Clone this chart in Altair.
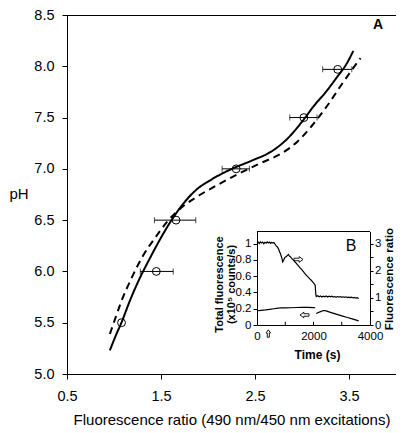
import altair as alt
import pandas as pd

# ---------------- Panel A: pH calibration ----------------
cal_ratio = [1.08, 1.45, 1.66, 2.30, 3.02, 3.38]
cal_ph = [5.5, 6.0, 6.5, 7.0, 7.5, 7.97]
cal_lo = [1.08, 1.28, 1.43, 2.15, 2.87, 3.22]
cal_hi = [1.08, 1.63, 1.87, 2.44, 3.16, 3.53]

solid_ratio = [0.956, 1.026, 1.079, 1.167, 1.272, 1.377, 1.482, 1.605, 1.728, 1.868,
               2.044, 2.254, 2.465, 2.675, 2.851, 3.009, 3.132, 3.254, 3.377, 3.465, 3.546]
solid_ph = [5.23, 5.39, 5.50, 5.71, 5.93, 6.12, 6.30, 6.49, 6.65, 6.79,
            6.90, 7.00, 7.08, 7.17, 7.30, 7.47, 7.62, 7.75, 7.90, 8.01, 8.15]

dashed_ratio = [0.956, 1.009, 1.079, 1.184, 1.307, 1.447, 1.570, 1.728, 1.904, 2.114,
                2.342, 2.570, 2.781, 2.956, 3.114, 3.272, 3.412, 3.535, 3.623]
dashed_ph = [5.39, 5.53, 5.71, 5.93, 6.15, 6.34, 6.49, 6.63, 6.74, 6.85,
             6.96, 7.06, 7.15, 7.27, 7.43, 7.62, 7.81, 7.97, 8.08]

x_ticks_main = [0.5, 1.5, 2.5, 3.5]
y_ticks_main = [5.0, 5.5, 6.0, 6.5, 7.0, 7.5, 8.0, 8.5]

# ---------------- Panel B: inset time course ----------------
ratio_t = [0, 40, 80, 120, 160, 200, 240, 280, 320, 360, 400, 440, 480, 520, 560, 600,
           640, 680, 720, 760, 800, 840, 880, 910, 940, 970, 1000, 1040, 1080, 1110, 1140,
           1180, 1220, 1270, 1320, 1370, 1420, 1470, 1520, 1570, 1620, 1670, 1720, 1770,
           1820, 1870, 1920, 1970, 2020, 2060, 2080, 2100, 2150, 2200, 2250, 2300, 2350,
           2400, 2450, 2500, 2550, 2600, 2650, 2700, 2750, 2800, 2850, 2900, 2950, 3000,
           3050, 3100, 3150, 3200, 3250, 3300, 3350, 3400, 3450, 3500, 3550, 3600]
ratio_v = [3.02, 3.06, 3.01, 3.07, 3.03, 3.06, 3.00, 3.05, 3.02, 3.07, 3.03, 3.06, 3.01, 3.05, 3.02, 3.04,
           2.98, 2.92, 2.88, 2.81, 2.70, 2.60, 2.47, 2.33, 2.38, 2.46, 2.50, 2.53, 2.57, 2.60, 2.55,
           2.52, 2.47, 2.41, 2.36, 2.30, 2.24, 2.18, 2.11, 2.06, 2.00, 1.93, 1.87, 1.81,
           1.76, 1.70, 1.65, 1.59, 1.53, 1.47, 1.15, 1.05, 1.08, 1.04, 1.07, 1.03, 1.06,
           1.04, 1.07, 1.03, 1.06, 1.04, 1.06, 1.03, 1.05, 1.02, 1.05, 1.03, 1.05, 1.02,
           1.04, 1.02, 1.04, 1.01, 1.03, 1.01, 1.03, 1.00, 1.02, 0.99, 1.01, 0.98]

total_t = [0, 150, 300, 450, 600, 750, 850, 1000, 1200, 1400, 1600, 1800, 2000, 2060,
           2100, 2150, 2250, 2350, 2420, 2600, 2800, 3000, 3200, 3400, 3600]
total_v = [0.175, 0.180, 0.185, 0.192, 0.200, 0.207, 0.212, 0.210, 0.212, 0.215, 0.217, 0.216, 0.214, 0.212,
           0.140, 0.150, 0.165, 0.178, 0.176, 0.155, 0.133, 0.112, 0.092, 0.072, 0.050]
total_seg = [0] * 14 + [1] * 11

inset_xticks = [1000, 2000, 3000]
arrow_right = (1469, 0.806)
arrow_left = (1681, 0.123)
arrow_up = (400, -0.105)

FONT = "Liberation Sans"

# hollow arrow outlines (unit shapes)
PATH_RIGHT = "M -1 -0.28 L 0.15 -0.28 L 0.15 -0.62 L 1 0 L 0.15 0.62 L 0.15 0.28 L -1 0.28 Z"
PATH_LEFT = "M 1 -0.28 L -0.15 -0.28 L -0.15 -0.62 L -1 0 L -0.15 0.62 L -0.15 0.28 L 1 0.28 Z"
PATH_UP = "M -0.28 1 L -0.28 -0.15 L -0.62 -0.15 L 0 -1 L 0.62 -0.15 L 0.28 -0.15 L 0.28 1 Z"

# ---------------- data frames ----------------
cal_df = pd.DataFrame({"ratio": cal_ratio, "ph": cal_ph, "lo": cal_lo, "hi": cal_hi})
curve_df = pd.concat([
    pd.DataFrame({"ratio": solid_ratio, "ph": solid_ph, "style": "solid",
                  "i": range(len(solid_ratio))}),
    pd.DataFrame({"ratio": dashed_ratio, "ph": dashed_ph, "style": "dashed",
                  "i": range(len(dashed_ratio))}),
])
a_df = pd.DataFrame({"x": [3.81], "y": [8.40], "t": ["A"]})

ratio_df = pd.DataFrame({"t": ratio_t, "v": ratio_v})
total_df = pd.DataFrame({"t": total_t, "v": total_v, "seg": total_seg})
tick_df = pd.DataFrame({"t": inset_xticks, "v0": [0.0] * 3, "v1": [0.04] * 3})
top_df = pd.DataFrame({"t0": [0], "t1": [4000], "v": [1.15]})
b_df = pd.DataFrame({"t": [3327], "v": [0.97], "s": ["B"]})

W, H = 329, 359
IN_BOTTOM, IN_TOP = 310, 216.5

# ---------------- scales ----------------
sx = alt.Scale(domain=[0.5, 4.0], range=[0, W], nice=False, zero=False)
sy = alt.Scale(domain=[5.0, 8.5], range=[H, 0], nice=False, zero=False)
ix = alt.Scale(domain=[0, 4000], range=[190, 303], nice=False, zero=False)
iyl = alt.Scale(domain=[0, 1.15], range=[IN_BOTTOM, IN_TOP], nice=False, zero=False)
iyr = alt.Scale(domain=[0, 3.45], range=[IN_BOTTOM, IN_TOP], nice=False, zero=False)

# ---------------- axes ----------------
ax_x = alt.Axis(orient="bottom", title="Fluorescence ratio (490 nm/450 nm excitations)",
                values=x_ticks_main, format=".1f", tickSize=5, labelPadding=10,
                labelFontSize=14.5, titleFontSize=15, titleFontWeight="normal",
                titleY=38, labelFlush=False, grid=False)
ax_y = alt.Axis(orient="left", title="pH", values=y_ticks_main, format=".1f",
                tickSize=5, labelPadding=8, labelFontSize=14.5, titleFontSize=15,
                titleFontWeight="normal", titleAngle=0, titleAlign="left",
                titleBaseline="middle", titleX=-58, titleY=178, grid=False)
ax_ix = alt.Axis(orient="bottom", offset=-(H - IN_BOTTOM), values=[0, 2000, 4000], format="d",
                 ticks=False, labelPadding=5, labelFontSize=11.5, labelFlush=False,
                 title="Time (s)", titleFontSize=12, titleFontWeight="bold",
                 titleX=250, titleY=24, grid=False)
ax_iyl = alt.Axis(orient="left", offset=-190, values=[0, 0.2, 0.4, 0.6, 0.8, 1.0],
                  format="~g", tickSize=4, labelPadding=2, labelFontSize=11.5,
                  title=["Total fluorescence", "(x10\u2075 counts/s)"],
                  titleFontSize=11, titleFontWeight="bold", titleAngle=270,
                  titleAlign="center", titleBaseline="middle", titleLineHeight=12,
                  titleX=-38, titleY=269, grid=False)
ax_iyr = alt.Axis(orient="right", offset=-(W - 303), values=[0, 0.5, 1, 1.5, 2, 2.5, 3],
                  format="~g",
                  labelExpr="datum.value % 1 == 0 ? datum.label : ''",
                  tickSize=3, labelPadding=1.5, labelFontSize=11.5,
                  title="Fluorescence ratio", titleFontSize=11.5, titleFontWeight="bold",
                  titleAngle=270, titleAlign="center", titleBaseline="middle",
                  titleX=19.5, titleY=263.5, grid=False)

# ---------------- main panel layers ----------------
curves = alt.Chart(curve_df).mark_line(color="black", strokeWidth=2, interpolate="monotone").encode(
    x=alt.X("ratio:Q", scale=sx, axis=ax_x),
    y=alt.Y("ph:Q", scale=sy, axis=ax_y),
    strokeDash=alt.StrokeDash("style:N", scale=alt.Scale(domain=["solid", "dashed"],
                                                         range=[[1, 0], [7, 5]]), legend=None),
    detail="style:N",
    order="i:Q",
)

errbars = alt.Chart(cal_df).transform_filter("datum.hi > datum.lo").mark_rule(
    color="black", strokeWidth=1).encode(
    x=alt.X("lo:Q", scale=sx, axis=None), x2="hi:Q",
    y=alt.Y("ph:Q", scale=sy, axis=None),
)

caps = alt.Chart(cal_df).transform_filter("datum.hi > datum.lo").transform_fold(
    ["lo", "hi"], as_=["end", "val"]).mark_tick(
    orient="vertical", size=6, thickness=1, color="black").encode(
    x=alt.X("val:Q", scale=sx, axis=None),
    y=alt.Y("ph:Q", scale=sy, axis=None),
)

points = alt.Chart(cal_df).mark_point(shape="circle", filled=False, size=62, color="black",
                                      strokeWidth=1, opacity=1).encode(
    x=alt.X("ratio:Q", scale=sx, axis=None),
    y=alt.Y("ph:Q", scale=sy, axis=None),
)

label_a = alt.Chart(a_df).mark_text(font=FONT, fontSize=14, fontWeight="bold", color="black").encode(
    x=alt.X("x:Q", scale=sx, axis=None),
    y=alt.Y("y:Q", scale=sy, axis=None),
    text="t:N",
)

# ---------------- inset layers ----------------
lower = alt.Chart(total_df).mark_line(color="black", strokeWidth=1.2).encode(
    x=alt.X("t:Q", scale=ix, axis=ax_ix),
    y=alt.Y("v:Q", scale=iyl, axis=ax_iyl),
    detail="seg:N",
)

upper = alt.Chart(ratio_df).mark_line(color="black", strokeWidth=1.2).encode(
    x=alt.X("t:Q", scale=ix, axis=None),
    y=alt.Y("v:Q", scale=iyr, axis=ax_iyr),
)

in_ticks = alt.Chart(tick_df).mark_rule(color="black", strokeWidth=1).encode(
    x=alt.X("t:Q", scale=ix, axis=None),
    y=alt.Y("v0:Q", scale=iyl, axis=None), y2="v1:Q",
)

top_line = alt.Chart(top_df).mark_rule(color="black", strokeWidth=1).encode(
    x=alt.X("t0:Q", scale=ix, axis=None), x2="t1:Q",
    y=alt.Y("v:Q", scale=iyl, axis=None),
)


def arrow(pos, path, size):
    df = pd.DataFrame({"t": [pos[0]], "v": [pos[1]]})
    return alt.Chart(df).mark_point(shape=path, size=size, filled=False, color="black",
                                    strokeWidth=0.9, opacity=1).encode(
        x=alt.X("t:Q", scale=ix, axis=None),
        y=alt.Y("v:Q", scale=iyl, axis=None),
    )


arr_r = arrow(arrow_right, PATH_RIGHT, 81)
arr_l = arrow(arrow_left, PATH_LEFT, 81)
arr_u = arrow(arrow_up, PATH_UP, 55)

label_b = alt.Chart(b_df).mark_text(font=FONT, fontSize=16, color="black").encode(
    x=alt.X("t:Q", scale=ix, axis=None),
    y=alt.Y("v:Q", scale=iyl, axis=None),
    text="s:N",
)

chart = alt.layer(
    curves, errbars, caps, points, label_a,
    lower, upper, in_ticks, top_line, arr_r, arr_l, arr_u, label_b,
).resolve_scale(
    x="independent", y="independent", strokeDash="independent"
).resolve_axis(
    x="independent", y="independent"
).properties(
    width=W, height=H,
    padding={"left": 59, "top": 7, "right": 0, "bottom": 57},
    autosize=alt.AutoSizeParams(type="none"),
).configure_axis(
    labelFont=FONT, titleFont=FONT, labelColor="black", titleColor="black",
    domainColor="black", tickColor="black", domainWidth=1, tickWidth=1,
    grid=False, labelFlush=False,
).configure_view(
    stroke="black", strokeWidth=1,
)

chart.save("out.html", embed_options={"renderer": "svg", "actions": False})
